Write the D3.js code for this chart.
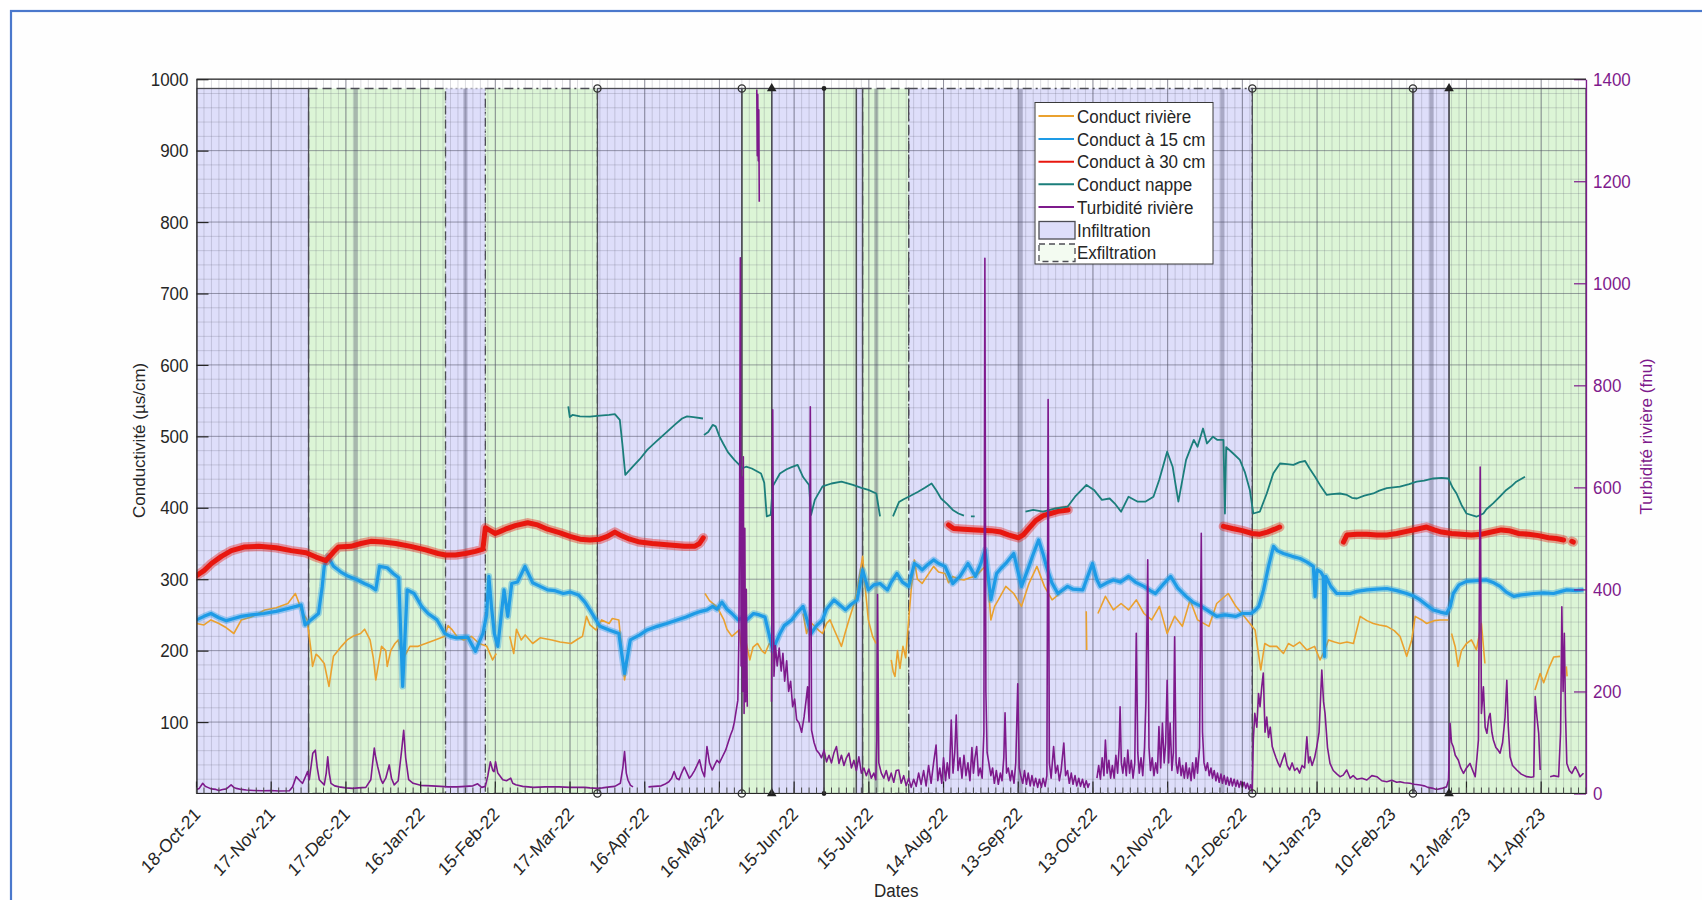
<!DOCTYPE html>
<html><head><meta charset="utf-8">
<script src="https://cdn.jsdelivr.net/npm/d3@7"></script>
<style>
html,body{margin:0;padding:0;background:#fff;}
svg{display:block;font-family:"Liberation Sans",Arial,Helvetica,sans-serif;}
.ht{transform-box:fill-box;transform-origin:center;transform:scaleY(1.12);}
</style></head><body>
<svg id="chart" width="1702" height="900"></svg>
<script>
// ---------------- DATA ----------------
const startDate = "2021-10-18";
const endDate = "2023-04-29";
const xTickLabels = ["18-Oct-21","17-Nov-21","17-Dec-21","16-Jan-22","15-Feb-22","17-Mar-22","16-Apr-22","16-May-22","15-Jun-22","15-Jul-22","14-Aug-22","13-Sep-22","13-Oct-22","12-Nov-22","12-Dec-22","11-Jan-23","10-Feb-23","12-Mar-23","11-Apr-23"];
const leftTicks = [100,200,300,400,500,600,700,800,900,1000];
const rightTicks = [0,200,400,600,800,1000,1200,1400];
const seriesNames = ["Conduct rivière","Conduct à 15 cm","Conduct à 30 cm","Conduct nappe","Turbidité rivière"];
const regionNames = ["Infiltration","Exfiltration"];
const patchTop = 987;

const regionStarts = ["2021-10-18","2021-12-02","2022-01-26","2022-02-11","2022-03-28","2022-05-25","2022-06-06","2022-06-27","2022-07-10","2022-07-12 12","2022-07-31","2022-12-16","2023-02-18 12","2023-03-05"];
const regionEnds   = ["2021-12-02","2022-01-26","2022-02-11","2022-03-28","2022-05-25","2022-06-06","2022-06-27","2022-07-10","2022-07-12 12","2022-07-31","2022-12-16","2023-02-18 12","2023-03-05","2023-04-29"];
const regionTypes  = ["Infiltration","Exfiltration","Infiltration","Exfiltration","Infiltration","Exfiltration","Infiltration","Exfiltration","Infiltration","Exfiltration","Infiltration","Exfiltration","Infiltration","Exfiltration"];
const thickLineDates = ["2021-12-21","2022-02-03","2022-07-18","2022-09-14","2022-12-04","2023-02-26"];
const markerCircleDates = ["2022-03-28","2022-05-25","2022-12-16","2023-02-18 12"];
const markerTriangleDates = ["2022-06-06","2023-03-05"];
const markerDotDates = ["2022-06-27"];

// series: [days since startDate, value], null = gap
const condRiviere = [
[0,238],[3,236],[5.8,243],[9,238],[12,232],[15,224],[18,243],[22,247],[27.4,257],[32,260],[36.7,266],[39.7,280],[41,268],[42,257],[44.4,243],[46,200],[46.6,178],[48,195],[49,192],[51.3,182],[53.2,150],[55,192],[58.2,206],[60.5,215],[62.8,220],[65.9,224],[67.5,230],[69.7,215],[71,190],[72,159],[74.3,206],[76,200],[76.6,178],[78,200],[79.7,210],[81,215],[82.8,187],[85.7,206],[89,206],[92,210],[95.8,215],[99.7,220],[101,235],[102.7,229],[105,218],[107.3,215],[110.4,220],[113.5,210],[116.6,206],[118.9,187],[120.4,196],null,
[125.8,220],[127.4,196],[128.5,230],[130.4,215],[132,222],[135,210],[138,218],[142.7,215],[146,212],[150.4,210],[153,216],[155,220],[156.6,248],[158,236],[160.4,229],[162.7,243],[165.7,238],[167,245],[169.6,243],[171.9,159],[173.4,196],null,
[204.2,280],[206,270],[208.8,262],[210,255],[211.8,243],[213,230],[215,220],[218,229],[219,196],[220.5,215],[222.2,187],[223.5,205],[225.3,210],[227,200],[228.3,196],[230,210],[231.4,205],null,
[243.6,252],[245,224],[246.5,240],[248.3,234],[250,228],[251.4,224],[253,238],[254.4,243],[256,230],[259,206],[260.5,225],[262,243],[264,265],[265.3,285],[267.5,332],[268.5,290],[269.8,243],[271.5,220],[272.9,210],null,
[279,187],[279.8,170],[280.5,164],[281.5,200],[282.5,175],[283.7,206],[284.8,190],[286,243],[287,285],[288.3,327],[289.5,300],[291.4,294],[293.5,305],[296,318],[298,310],[300.6,308],[302,295],[303.7,304],[306,300],[308.2,299],[310.5,302],[312.8,304],[314.5,310],[316.7,318],[318,290],[319,243],[320.5,262],[322,271],[325,290],[328.2,280],[331.3,262],[334.3,294],[337.5,318],[340.5,290],[343.6,271],[346.7,280],[349.8,290],[352.8,285],null,
[357.3,255],[357.5,201],null,
[362,252],[365,276],[368.2,257],[371.3,266],[374.3,257],[377.4,271],[380.5,252],[383.6,243],[386.7,262],[389.8,224],[392.8,248],[395.9,234],[399,271],[402,243],[406.6,234],[409.7,266],[414.3,280],[417.4,262],[421.9,243],[425.1,229],[427.4,173],[429,210],[431,206],[433.8,206],[436.5,196],[438.5,210],[440.5,206],[443,212],[445.9,201],[449,206],[451.2,187],[453,200],[454.6,215],[457,212],[459.2,210],[462,212],[464.6,210],[467.3,248],[470,242],[472.6,238],[475,236],[478,234],[481,228],[483.3,220],[486,192],[488,215],[489.4,248],[492,243],[494,238],[497,242],[499.4,243],[502.7,243],null,
[504,224],[505.5,205],[506.6,178],[508,200],[510,210],[512,215],[514,201],[516,238],[517.4,182],null,
[537.5,145],[539.6,168],[541,155],[543,175],[545,191],[547.6,192],null,
[550.1,178],[550.4,164]
];

const cond15 = [
[0,243],[3,248],[5.8,252],[9,246],[12,242],[15,245],[18,248],[22,250],[27,252],[32,255],[36.7,259],[40,262],[42,264],[43.6,236],[45.9,243],[49,252],[50.5,290],[51.3,318],[52.8,332],[55,318],[58,310],[61,304],[64,300],[67.4,294],[70,290],[72,285],[73.5,318],[76.6,316],[79,308],[81.2,302],[82.8,150],[84.6,285],[87.4,280],[90.4,262],[93,252],[96.6,243],[99.7,224],[102,220],[104.2,218],[108.9,219],[112,199],[115,224],[116.5,250],[117.4,304],[118.5,260],[119.6,224],[121,206],[123.5,285],[125,248],[126.6,294],[128.9,296],[131.9,318],[135,295],[138,290],[141,285],[144,284],[147.3,280],[150,282],[153.4,278],[156,268],[158,257],[162,234],[165.7,229],[169.6,224],[171.9,168],[174.2,215],[178,222],[181,229],[185,234],[188.8,238],[193,243],[196.6,247],[200,252],[202.6,255],[205,257],[207.3,262],[209,258],[211,268],[213,258],[215,252],[217.5,243],[220,247],[221,243],[223.7,252],[226,250],[228.3,247],[231.4,201],[234.3,224],[236,235],[239,243],[241,252],[243.6,262],[246.8,224],[249,235],[251.4,243],[253,258],[256,271],[258,265],[260.6,257],[263,265],[265.3,271],[267.5,313],[269.8,285],[272,292],[274.5,294],[277.5,285],[279,296],[281.3,308],[283.5,296],[286,290],[288.3,322],[290,318],[291.4,313],[293.5,320],[296,327],[298,322],[300.6,318],[303.7,294],[306.6,304],[309.8,322],[312.8,304],[315,322],[316.7,341],[319,271],[321.3,308],[323,315],[325,322],[328.2,336],[331.3,290],[334.3,318],[336,335],[338.2,355],[340,335],[341.3,318],[343.5,295],[345.9,280],[349.8,290],[352,286],[355.9,285],[358,305],[359.8,322],[361.5,300],[362.9,290],[365.5,295],[368.2,299],[371,296],[374.3,304],[377,296],[380.5,290],[383,284],[385.1,280],[388,292],[391.2,304],[394,288],[397.4,276],[400,268],[403.5,262],[406.6,255],[409.7,248],[413,250],[417.4,248],[420,252],[423.5,252],[425,256],[426.6,262],[428.5,285],[430.5,318],[432.5,346],[434,340],[436.5,336],[440,332],[443.2,329],[446,324],[448.5,318],[449.2,276],[450,313],[451.5,310],[452.5,304],[453,192],[453.5,304],[455.5,290],[457.9,280],[461,280],[463.3,280],[466,283],[470,285],[474,286],[478,287],[482,284],[486,280],[489,276],[491.4,271],[494,264],[496.7,257],[499.5,254],[502,252],[503.5,262],[504.7,280],[507,292],[510,297],[514,298],[518,299],[521,295],[523.5,290],[526,282],[529,276],[532,278],[537,280],[541,281],[545,280],[548,283],[550.3,285],[554,284],[557,285]
];

const cond30 = [
[0,305],[3,312],[6,322],[10,332],[14,340],[19,345],[25,346],[32,344],[38,340],[44,337],[48,331],[52,326],[55,338],[57,345],[62,346],[66,350],[70,353],[75,352],[80,350],[86,346],[92,341],[97,336],[100,334],[104,334],[108,336],[112,339],[115,342],[116,372],[118,368],[120,364],[122,367],[124,370],[128,375],[133,379],[137,376],[141,370],[146,365],[150,360],[154,356],[158,355],[162,356],[165,360],[168,366],[170,362],[174,356],[178,352],[183,350],[190,348],[196,346],[200,346],[202,350],[203.5,358],null,
[302,376],[304,371],[308,370],[313,369],[319,368],[323,366],[326,362],[330,358],[332,362],[334,370],[337,382],[340,389],[343,392],[346,395],[350,397],null,
[412.4,374],[416,371],[420,368],[424,364],[427,363],[430,366],[433,370],[435,373],null,
[460.6,352],[462,362],[466,363],[470,363],[474,362],[478,362],[482,364],[486,367],[490,370],[494,373],[497,369],[500,366],[504,364],[508,363],[512,362],[516,363],[520,366],[524,369],[527,368],[531,364],[535,363],[539,361],[543,358],[546,357],[549,355],null,
[552.3,353],[552.9,352]
];

const condNappe = [
[149.3,542],[149.9,527],[151,530],[154,528],[158,527.5],[162,529],[165.7,530],[168,531],[170,523],[171,490],[172.2,446],[175,457],[178,468],[181,481],[185,494],[188.8,506],[192,516],[195,525],[197,528],[199.6,527],[203.4,525],null,
[203.8,502],[205.5,506],[207.3,516],[208.5,514],[210,500],[211.5,490],[213.4,478],[216,467],[218,460],[219,455],[220.7,457.5],[223,455],[226.7,448],[228,435],[229,388],[230.6,390],[231.4,430],[234.3,448],[237,454],[239,457],[241.4,460],[243.6,443],[246,432],[246.8,390],[248.3,411],[251.4,430],[255,434],[259,436.5],[263.6,432],[267,428],[269.8,425],[273,420],[274.5,388],null,
[279.7,388],[282.1,408],[284,412],[286,415.5],[289.8,422.5],[292.5,428],[295.2,434],[297,425],[299,413],[301.5,405],[303.7,397],[306,392],[308.2,389],null,
[311,388],[312.5,388],null,
[332.9,394.5],[336,397],[340,394.5],[345,399],[349.8,401.5],[352.8,415.5],[357.4,432],[360.4,425],[363.6,411],[366.7,413],[369,405],[371.3,394.5],[374.3,415.5],[378,408.5],[381,408.5],[384.3,415.5],[386.6,439],[389.8,478.5],[392,457.5],[394.3,408.5],[397.4,467],[400.5,495],[402,485.5],[404.2,511],[405.8,490],[408.2,499.5],[410,495],[412.4,495],[413,392],[413.5,485],[416,477],[419,467],[421,450],[423,425],[424.4,392],[427,394.5],[429.8,420],[432.4,448],[435.1,462],[438,461],[440.5,460],[443,464],[445.2,465.5],[447,455],[449.2,443.5],[451.5,430],[453.9,418],[456,419],[459.2,420],[462,418],[464,414],[466,413],[469,417],[472.6,420],[475,424],[478,427.5],[483.3,429.5],[487,433],[490,436.5],[493,438],[496.7,441],[500,442],[502.7,441],[504.5,428],[506,420],[508,404],[510,392],[514,387.5],[516.8,392],[518,398],[520.8,406.5],[523.5,416],[526,425],[528,430],[530,436.5],[533.5,443.5]
];

const turbiditeRiviere = [
[0,8],[1.1,10],[2.5,20],[3.5,14],[4.5,12],[6,9],[7.8,8],[9,6],[10.5,8],[12,9],[13.9,17],[15,12],[16,10],[18,8],[20,7],[23,6],[26.6,5.5],[30,6],[33,5],[37.3,5.5],[38.6,13],[40,33],[41.5,25],[42.6,20],[43.5,30],[44.6,43],[45.3,27],[46.7,79],[47.7,85],[48.5,50],[49.3,27],[51.3,17],[52.1,40],[52.7,72],[53.3,40],[54,20],[55.5,15],[57.3,13],[60,11],[62.7,10],[65,11],[68,12],[70,27],[71.4,89],[72,70],[72.8,52],[74,28],[74.8,20],[76,30],[77.4,56],[78.3,30],[79.4,17],[81,25],[82.5,90],[83.2,124],[84,70],[85.2,27],[87,20],[90,16],[94.4,15],[98,14],[101,13],[104.6,13],[108,14],[111,15],[112.9,19],[114.5,12],[116,14],[117,35],[118,62],[119,45],[119.5,43],[120.1,62],[121,40],[123,27],[124.5,25],[126.2,30],[127,20],[128.2,17],[131,14],[135.4,12],[140,13],[145.6,13],[150,12],[155.9,12],[158,11],[161,10],[163,11],[166,13],[168,14],[170.2,20],[171.2,50],[171.9,82],[172.6,40],[173.3,26],[174.3,16],[175.3,13],null,
[181.5,13],[184,14],[186.6,15],[188,18],[189.7,23],[190.8,30],[191.8,43],[192.8,30],[193.8,27],[194.8,40],[195.9,52],[197,40],[197.9,30],[198.9,36],[200,45],[201,55],[202,66],[203,45],[204,33],[205,92],[206,60],[207.1,46],[208,55],[209,65],[210,60],[211.2,72],[212.5,85],[213.5,100],[214.5,115],[215.3,125],[216,140],[216.8,165],[217.4,183],[217.8,300],[218.1,550],[218.4,1050],[218.7,250],[219,620],[219.3,200],[219.6,660],[219.9,157],[220.2,520],[220.5,180],[220.8,400],[221.2,170],null,
[225,1380],[225.2,1250],[225.4,1370],[225.6,1240],[225.8,1340],[226,1160],null,
[230.9,180],[231.4,752],[231.9,230],[232.5,290],[233.2,250],[234,285],[234.8,240],[235.5,275],[236.2,220],[237,260],[237.8,200],[238.6,220],[239.4,170],[240.2,185],[241,145],[242,138],[243,120],[244,150],[244.8,183],[245.4,209],[246,140],[246.5,758],[247,124],[248,100],[249,85],[250,79],[251,70],[252,85],[253,62],[254,75],[255,60],[256,80],[257,92],[258,59],[259,75],[260,55],[261,70],[262,79],[263,50],[264,65],[265,45],[266,72],[267,40],[268,50],[269,35],[270,48],[271,30],[272,40],[272.8,27],[273.2,105],[273.5,390],[274,60],[275,40],[276,30],[277,45],[278,25],[279,40],[280,22],[281,45],
[282,46],[283,20],[284,35],[285,15],[286,30],[287,12],[288,28],[289,14],[290,40],[291,18],[292,45],[293,15],[294,55],[295,20],[296,60],[297,95],[297.7,25],[298.5,50],[299.3,20],[300,70],[300.8,25],[301.5,60],[302.3,30],[303.1,144],[303.8,40],[304.5,80],[305.1,154],[305.8,45],[306.6,70],[307.4,30],[308.2,75],[309,35],[309.8,60],[310.6,25],[311.4,90],[312,40],[312.6,70],[313.3,92],[314,35],[314.7,50],[315.5,30],[316.2,120],[316.6,1049],[317,200],[317.5,80],[318.2,60],[319,35],[319.7,50],[320.4,20],[321.2,45],[322,18],[322.8,40],[323.5,25],[324.2,70],[324.7,158],[325.3,40],[326,50],[326.8,25],[327.5,45],[328.3,20],[329,60],[329.8,215],[330.4,50],[331,35],[331.8,20],[332.5,45],[333.3,18],[334,40],[334.8,15],[335.5,35],[336.3,15],[337,30],[337.8,12],[338.5,28],[339.3,12],[340,30],[340.8,14],[341.5,35],[342,772],[342.5,60],[343.2,30],[344.2,92],[345,40],[345.8,55],[346.5,25],[347.2,45],[348.3,99],[349,35],[349.8,45],[350.5,20],[351.3,40],[352,18],[352.8,35],[353.5,15],[354.3,30],[355,14],[355.8,28],[356.5,12],[357.3,25],[358,12],[358.6,20],null,
[361.6,30],[362.3,55],[363,28],[363.7,70],[364.4,35],[365,105],[365.7,40],[366.4,65],[367.1,30],[367.8,55],[368.5,30],[369.2,75],[369.9,40],[370.5,90],[370.9,170],[371.4,60],[372,40],[372.7,70],[373.4,35],[374,85],[374.7,40],[375.4,65],[376.1,30],[376.8,60],[377.4,314],[378,80],[378.6,40],[379.3,70],[380,35],[380.7,90],[381.3,183],[382,458],[382.5,90],[383.1,45],[383.8,70],[384.5,35],[385.2,60],[385.9,40],[386.5,131],[387.2,50],[387.9,138],[388.6,60],[389.2,99],[389.8,222],[390.4,60],[391,138],[391.7,45],[392.3,80],[392.8,307],[393.4,60],[394,40],[394.7,70],[395.4,35],[396,55],[396.7,30],[397.4,60],[398,30],[398.7,50],[399.4,25],[400,60],[400.7,30],[401.4,70],[402,40],[402.8,90],[403.5,510],[404,120],[404.6,60],[405.3,45],[406,60],[406.7,35],[407.4,50],[408,30],[408.7,45],[409.4,25],[410,40],[410.7,22],[411.4,38],[412,20],[412.7,35],[413.4,18],[414,32],[414.7,16],[415.4,30],[416,15],[416.7,28],[417.4,14],[418,26],[418.7,12],[419.4,24],[420,12],[420.7,22],[421.4,10],[422,20],[422.7,8],[423.3,17],[424,5],[424.4,105],[425,157],[425.8,130],[426.5,196],[427.1,170],[427.8,210],[428.4,236],[429.1,120],[429.8,150],[430.5,110],[431.2,130],[432,92],[432.8,80],[433.5,70],[434.3,60],[435.1,52],[436,65],[437,79],[438,55],[439,46],[440,60],[441,45],[442,50],[443,40],[444,55],[445,50],[445.9,111],[446.6,60],[447.2,72],[448,55],[449,70],[449.9,92],[450.8,120],[451.9,242],[452.6,180],[453.2,157],[454.2,90],[455.2,59],[456.5,45],[458,38],[459.2,33],[460.5,36],[461.9,46],[463.3,30],[464.5,35],[466,28],[468,30],[470,26.5],[472,35],[474,33],[476,25],[478,23],[480,26],[482,22],[483.3,23],[485,21],[487.3,20],[489,18],[491.4,16.7],[493,15],[494.5,12],[496.7,10],[498,8],[500,10],[502,13],[502.8,26.5],[503.4,137.5],[504,100],[504.7,91.7],[505.5,75],[506.7,65.7],[507.7,50],[508.8,39.6],[510,50],[511.4,59],[512.5,45],[513.5,33],[514.2,70],[514.8,105],[515.5,640],[516,157],[516.8,209],[517.5,130],[518.2,118],[519,150],[519.5,157],[520.2,120],[520.8,105],[521.8,90],[522.7,85],[523.5,79],[524.5,100],[525.5,150],[526.2,222],[526.8,130],[527.5,72],[528.5,55],[530.2,46],[532,38],[534.2,33],[536,32],[537,33],[537.6,190],[538.3,150],[539,118],[539.6,46],null,
[543.6,33],[545,35],[547,33],[547.8,120],[548.3,366],[548.8,200],[549.3,314],[549.8,150],[550.3,59],[551.3,45],[552.3,39.6],[553.7,52.5],[555,40],[555.6,33],[557,39.6]
];

// ---------------- LAYOUT / STYLE ----------------
const W = 1702, H = 900;
const L = 196.5, R = 1586, T = 79.2, B = 793.5;
const FS = 17;
const textCol = "#262626";
const turbCol = "#7e1a8c";
const seriesColors = ["#eaa12f","#1e9be6","#e8170f","#1b7e7b", turbCol];
const seriesWidths = [1.6, 3.2, 5, 1.8, 1.6];
const haloWidths = [0, 6.5, 9.5, 0, 0];
const regionFill = {Infiltration:"#dedefa", Exfiltration:"#dcf5d6"};
const regionEdgeStyle = ["solid","dashed","dotted","dashdot","solid","solid","solid","solid","solid","dashed","dashdot","solid","solid","solid"];
const dashMap = {solid:null, dashed:"9,5", dotted:"2,3", dashdot:"9,4,2,4"};

const svg = d3.select("#chart");
const defs = svg.append("defs");
defs.append("clipPath").attr("id","clip").append("rect")
  .attr("x",L).attr("y",T).attr("width",R-L).attr("height",B-T);

// frame
svg.append("rect").attr("width",W).attr("height",H).attr("fill","#ffffff");
svg.append("rect").attr("x",11).attr("y",11).attr("width",W+20).attr("height",H+20)
  .attr("fill","#fefefe").attr("stroke","#4a78cc").attr("stroke-width",2.2);

const parseD = s => {
  const [d,h] = s.split(" ");
  const dt = d3.utcParse("%Y-%m-%d")(d);
  return h ? new Date(dt.getTime() + (+h)*3600e3) : dt;
};
const t0 = parseD(startDate);
const dayToDate = d => new Date(t0.getTime() + d*864e5);
const parseTick = d3.utcParse("%d-%b-%y");

const x = d3.scaleUtc().domain([t0, parseD(endDate)]).range([L, R]);
const yL = d3.scaleLinear().domain([0,1000]).range([B, T]);
const yR = d3.scaleLinear().domain([0,1400]).range([B, T]);

const plot = svg.append("g").attr("clip-path","url(#clip)");
plot.append("rect").attr("x",L).attr("y",T).attr("width",R-L).attr("height",B-T).attr("fill","#ffffff");

// regions (fills)
const idx = d3.range(regionStarts.length);
plot.append("g").selectAll("rect").data(idx).join("rect")
  .attr("x", i => x(parseD(regionStarts[i])))
  .attr("width", i => x(parseD(regionEnds[i])) - x(parseD(regionStarts[i])))
  .attr("y", yL(patchTop)).attr("height", B - yL(patchTop))
  .attr("fill", i => regionFill[regionTypes[i]]);

// grid
const totalDays = Math.round((parseD(endDate) - t0)/864e5);
const gGrid = plot.append("g");
gGrid.selectAll(".vmin").data(d3.range(0, totalDays+1, 3)).join("line")
  .attr("x1", d => x(dayToDate(d))).attr("x2", d => x(dayToDate(d)))
  .attr("y1", T).attr("y2", B).attr("stroke","rgba(90,90,110,0.22)").attr("stroke-width",1);
gGrid.selectAll(".hmin").data(d3.range(20,1000,20).filter(v => v % 100 !== 0)).join("line")
  .attr("x1", L).attr("x2", R).attr("y1", d => yL(d)).attr("y2", d => yL(d))
  .attr("stroke","rgba(90,90,110,0.22)").attr("stroke-width",1);
const tickDates = xTickLabels.map(parseTick);
gGrid.selectAll(".vmaj").data(tickDates).join("line")
  .attr("x1", d => x(d)).attr("x2", d => x(d)).attr("y1", T).attr("y2", B)
  .attr("stroke","rgba(70,70,90,0.5)").attr("stroke-width",1);
gGrid.selectAll(".hmaj").data(leftTicks).join("line")
  .attr("x1", L).attr("x2", R).attr("y1", d => yL(d)).attr("y2", d => yL(d))
  .attr("stroke","rgba(70,70,90,0.5)").attr("stroke-width",1);

// thick translucent vertical bands
plot.append("g").selectAll("line").data(thickLineDates).join("line")
  .attr("x1", d => x(parseD(d))).attr("x2", d => x(parseD(d)))
  .attr("y1", yL(patchTop)).attr("y2", B)
  .attr("stroke","rgba(60,60,90,0.33)").attr("stroke-width",4);

// region borders
plot.append("g").selectAll("rect").data(idx).join("rect")
  .attr("x", i => x(parseD(regionStarts[i])))
  .attr("width", i => x(parseD(regionEnds[i])) - x(parseD(regionStarts[i])))
  .attr("y", yL(patchTop)).attr("height", B - yL(patchTop))
  .attr("fill","none")
  .attr("stroke", i => regionEdgeStyle[i]==="dotted" ? "rgba(80,80,90,0.45)" : "#4d4d55")
  .attr("stroke-width", 1.3)
  .attr("stroke-dasharray", i => dashMap[regionEdgeStyle[i]]);

// series lines
const lineL = d3.line().defined(d => d !== null).x(d => x(dayToDate(d[0]))).y(d => yL(d[1]));
const lineR = d3.line().defined(d => d !== null).x(d => x(dayToDate(d[0]))).y(d => yR(d[1]));
const leftSeries = [condRiviere, cond15, cond30, condNappe];
leftSeries.forEach((s, i) => {
  if (haloWidths[i] > 0) {
    plot.append("path").datum(s).attr("d", lineL).attr("fill","none")
      .attr("stroke", seriesColors[i]).attr("stroke-opacity",0.38).attr("stroke-width", haloWidths[i])
      .attr("stroke-linejoin","round").attr("stroke-linecap", i===2 ? "round" : "butt");
  }
  plot.append("path").datum(s).attr("d", lineL).attr("fill","none")
    .attr("stroke", seriesColors[i]).attr("stroke-width", seriesWidths[i])
    .attr("stroke-linejoin","round").attr("stroke-linecap", i===2 ? "round" : "butt");
});
plot.append("path").datum(turbiditeRiviere).attr("d", lineR).attr("fill","none")
  .attr("stroke", seriesColors[4]).attr("stroke-width", seriesWidths[4]).attr("stroke-linejoin","round");

// markers at the top and bottom of the boundaries
const gM = svg.append("g");
[yL(patchTop), B].forEach(yy => {
  gM.selectAll(null).data(markerCircleDates).join("circle")
    .attr("cx", d => x(parseD(d))).attr("cy", yy).attr("r", 3.6)
    .attr("fill","none").attr("stroke","#333").attr("stroke-width",1.3);
  gM.selectAll(null).data(markerTriangleDates).join("path")
    .attr("d", d3.symbol().type(d3.symbolTriangle).size(40))
    .attr("transform", d => `translate(${x(parseD(d))},${yy})`).attr("fill","#222");
  gM.selectAll(null).data(markerDotDates).join("circle")
    .attr("cx", d => x(parseD(d))).attr("cy", yy).attr("r", 2.4).attr("fill","#222");
});

// axes
const fmt = d3.format("d");
const gL = svg.append("g").attr("transform",`translate(${L},0)`)
  .call(d3.axisLeft(yL).tickValues(leftTicks).tickFormat(fmt).tickSizeInner(-12).tickSizeOuter(0).tickPadding(8));
gL.attr("font-size",FS).attr("font-family",null);
gL.select(".domain").attr("stroke",textCol).attr("stroke-width",1.2);
gL.selectAll(".tick line").attr("stroke",textCol).attr("stroke-width",1.2);
gL.selectAll(".tick text").attr("fill",textCol).attr("class","ht");

const gR = svg.append("g").attr("transform",`translate(${R},0)`)
  .call(d3.axisRight(yR).tickValues(rightTicks).tickFormat(fmt).tickSizeInner(-12).tickSizeOuter(0).tickPadding(7));
gR.attr("font-size",FS).attr("font-family",null);
gR.select(".domain").attr("stroke",turbCol).attr("stroke-width",1.3);
gR.selectAll(".tick line").attr("stroke",turbCol).attr("stroke-width",1.2);
gR.selectAll(".tick text").attr("fill",turbCol).attr("class","ht");

// top & bottom axis lines
svg.append("line").attr("x1",L).attr("x2",R).attr("y1",T).attr("y2",T).attr("stroke",textCol).attr("stroke-width",1.2);
svg.append("line").attr("x1",L).attr("x2",R).attr("y1",B).attr("y2",B).attr("stroke",textCol).attr("stroke-width",1.2);
// bottom ticks (major + minor, inward)
svg.append("g").selectAll("line").data(tickDates).join("line")
  .attr("x1", d => x(d)).attr("x2", d => x(d)).attr("y1", B).attr("y2", B-12)
  .attr("stroke",textCol).attr("stroke-width",1.2);
svg.append("g").selectAll("line").data(d3.range(0,totalDays+1,3)).join("line")
  .attr("x1", d => x(dayToDate(d))).attr("x2", d => x(dayToDate(d))).attr("y1", B).attr("y2", B-6)
  .attr("stroke","#4a4a4a").attr("stroke-width",1);

// x tick labels rotated
svg.append("g").selectAll("g").data(tickDates).join("g")
  .attr("transform", d => `translate(${x(d)+5},${B+22}) scale(1,1.1) rotate(-45)`)
  .append("text").attr("text-anchor","end").attr("font-size",FS).attr("fill",textCol)
  .text((d,i) => xTickLabels[i]);

// axis titles
svg.append("text").attr("transform",`translate(145,${(T+B)/2+4}) rotate(-90)`)
  .attr("text-anchor","middle").attr("font-size",FS).attr("fill",textCol).text("Conductivité (µs/cm)");
svg.append("text").attr("transform",`translate(1652,${(T+B)/2}) rotate(-90)`)
  .attr("text-anchor","middle").attr("font-size",FS).attr("fill",turbCol).text("Turbidité rivière (fnu)");
svg.append("text").attr("x",(L+R)/2+5).attr("y",896).attr("text-anchor","middle")
  .attr("font-size",FS).attr("fill",textCol).attr("class","ht").text("Dates");

// legend
const lg = svg.append("g");
lg.append("rect").attr("x",1035).attr("y",102.5).attr("width",178).attr("height",161.5)
  .attr("fill","#ffffff").attr("stroke","#3a3a3a").attr("stroke-width",1);
const rowY = [116,139,161.7,184.3,207,230.7,252.7];
seriesNames.forEach((n,i) => {
  lg.append("line").attr("x1",1038.5).attr("x2",1074).attr("y1",rowY[i]).attr("y2",rowY[i])
    .attr("stroke",seriesColors[i]).attr("stroke-width",2);
  lg.append("text").attr("x",1077).attr("y",rowY[i]+6).attr("font-size",FS).attr("fill",textCol)
    .attr("class","ht").text(n);
});
lg.append("rect").attr("x",1039).attr("y",221.5).attr("width",36).attr("height",17.5)
  .attr("fill",regionFill.Infiltration).attr("stroke","#4d4d55").attr("stroke-width",1.3);
lg.append("rect").attr("x",1039).attr("y",244).attr("width",36).attr("height",17.5)
  .attr("fill","#f3fbf1").attr("stroke","#4d4d55").attr("stroke-width",1.3).attr("stroke-dasharray","6,4");
regionNames.forEach((n,i) => {
  lg.append("text").attr("x",1077).attr("y",rowY[5+i]+6).attr("font-size",FS).attr("fill",textCol)
    .attr("class","ht").text(n);
});
</script>
</body></html>
